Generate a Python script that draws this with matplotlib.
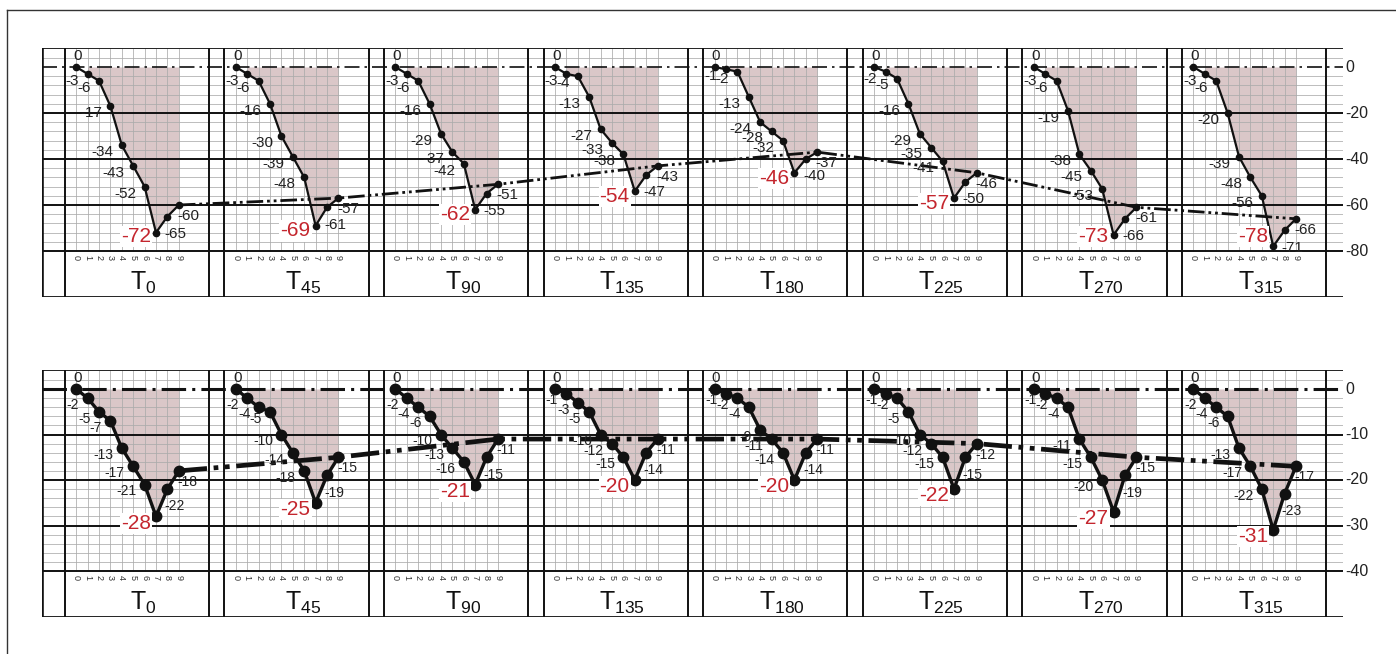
import matplotlib.pyplot as plt
from matplotlib.lines import Line2D

plt.rcParams['font.family'] = ['Liberation Sans', 'DejaVu Sans']
plt.rcParams['mathtext.fontset'] = 'custom'
plt.rcParams['mathtext.rm'] = 'Liberation Sans'
plt.rcParams['mathtext.default'] = 'regular'

# Winkel der Einzeldiagramme und Messpunkte 0..9
angles = ['0', '45', '90', '135', '180', '225', '270', '315']
steps = [0, 1, 2, 3, 4, 5, 6, 7, 8, 9]

# oberes Diagramm
up_t0 = [0, -3, -6, -17, -34, -43, -52, -72, -65, -60]
up_t45 = [0, -3, -6, -16, -30, -39, -48, -69, -61, -57]
up_t90 = [0, -3, -6, -16, -29, -37, -42, -62, -55, -51]
up_t135 = [0, -3, -4, -13, -27, -33, -38, -54, -47, -43]
up_t180 = [0, -1, -2, -13, -24, -28, -32, -46, -40, -37]
up_t225 = [0, -2, -5, -16, -29, -35, -41, -57, -50, -46]
up_t270 = [0, -3, -6, -19, -38, -45, -53, -73, -66, -61]
up_t315 = [0, -3, -6, -20, -39, -48, -56, -78, -71, -66]

# unteres Diagramm
lo_t0 = [0, -2, -5, -7, -13, -17, -21, -28, -22, -18]
lo_t45 = [0, -2, -4, -5, -10, -14, -18, -25, -19, -15]
lo_t90 = [0, -2, -4, -6, -10, -13, -16, -21, -15, -11]
lo_t135 = [0, -1, -3, -5, -10, -12, -15, -20, -14, -11]
lo_t180 = [0, -1, -2, -4, -9, -11, -14, -20, -14, -11]
lo_t225 = [0, -1, -2, -5, -10, -12, -15, -22, -15, -12]
lo_t270 = [0, -1, -2, -4, -11, -15, -20, -27, -19, -15]
lo_t315 = [0, -2, -4, -6, -13, -17, -22, -31, -23, -17]

upper = [up_t0, up_t45, up_t90, up_t135, up_t180, up_t225, up_t270, up_t315]
lower = [lo_t0, lo_t45, lo_t90, lo_t135, lo_t180, lo_t225, lo_t270, lo_t315]
upper_ticks = [0, -20, -40, -60, -80]
lower_ticks = [0, -10, -20, -30, -40]

W, H = 1396, 654
fig = plt.figure(figsize=(W / 100, H / 100), dpi=100)

PITCH = 14          # Abstand der Einzeldiagramme in x-Einheiten
UNIT = 11.4         # Pixel je x-Einheit
X0 = -3
X1 = X0 + (1343 - 42) / UNIT
SHADE = '#dac7c8'
RED = '#c4262e'
GRID = '#ababab'


def draw_row(px_top, px_zero, px_low, px_bot, low, series, ticks, style):
    scale = (px_low - px_zero) / abs(low)
    ytop = (px_zero - px_top) / scale
    ybot = low - (px_bot - px_low) / scale
    ax = fig.add_axes([42 / W, (H - px_bot) / H, (1343 - 42) / W, (px_bot - px_top) / H])
    ax.set_xlim(X0, X1)
    ax.set_ylim(ybot, ytop)
    ax.axis('off')
    tr = ax.get_xaxis_transform()

    # feine Linien
    step = style['minor']
    for y in range(low + step, int(ytop), step):
        if y % ticks[1] != 0:
            ax.axhline(y, color=GRID, lw=0.55, zorder=1)
    for i in range(len(series)):
        for s in steps:
            ax.plot([i * PITCH + s] * 2, [low, ytop], color=GRID, lw=0.55, zorder=1)

    # dicke Linien
    for t in ticks[1:]:
        ax.axhline(t, color='#111111', lw=1.4, zorder=2)
    ax.axhline(ytop, color='#222222', lw=1.4, zorder=2)
    ax.axhline(ybot, color='#222222', lw=1.4, zorder=2)
    ax.axvline(X0, color='#111111', lw=2.6, zorder=2)
    for i in range(len(series)):
        for b in (-1, 11.65):
            ax.axvline(i * PITCH + b, color='#111111', lw=1.4, zorder=2)

    ax.plot([X0, X1], [0, 0], color='#111111', lw=style['zero_lw'],
            linestyle=style['zero_ls'], zorder=3)

    for i, vals in enumerate(series):
        xs = [i * PITCH + s for s in steps]
        ax.fill_between(xs[1:], vals[1:], 0, color=SHADE, lw=0, zorder=0.5)
        ax.plot(xs, vals, color='#111111', lw=style['lw'], marker='o',
                ms=style['ms'], zorder=5)
        for s, x, v in zip(steps, xs, vals):
            if s == 0:
                ax.annotate('0', (x, v), xytext=(1, 3), textcoords='offset points',
                            ha='center', va='bottom', fontsize=style['fs0'], color='#222222', zorder=6)
            elif s == 7:
                y_lab = max(v - style['red_dy'], low + style['red_floor'])
                ax.text(x - 0.45, y_lab, str(v), ha='right', va='center',
                        fontsize=style['fs_red'], color=RED, zorder=6,
                        bbox=dict(boxstyle='square,pad=0.05', fc='white', ec='none'))
            elif s == 8:
                ax.annotate(str(v), (x, v), xytext=(-2, -12.5), textcoords='offset points',
                            ha='left', va='center', fontsize=style['fs'], color='#222222', zorder=6)
            elif s == 9:
                ax.annotate(str(v), (x, v), xytext=(-1, -8), textcoords='offset points',
                            ha='left', va='center', fontsize=style['fs'], color='#222222', zorder=6)
            else:
                ax.annotate(str(v), (x, v), xytext=(-6, -5), textcoords='offset points',
                            ha='right', va='center', fontsize=style['fs'], color='#222222', zorder=6)
            ax.text(x, 0.158, str(s), transform=tr, rotation=270, ha='center', va='center',
                    fontsize=6.5, color='#333333')
        ax.text(i * PITCH + 5.9, 0.03, 'T$_{' + angles[i] + '}$', transform=tr,
                ha='center', va='baseline', fontsize=18, color='#111111')

    # Verbindungslinie der Endpunkte
    ends_x = [i * PITCH + steps[-1] for i in range(len(series))]
    ends_y = [vals[-1] for vals in series]
    ax.plot(ends_x, ends_y, color='#111111', lw=style['link_lw'],
            linestyle=(0, (6, 1.4, 1, 1.4, 1, 1.4)), zorder=4)

    for t in ticks:
        ax.text(X1 + 0.2, t, str(t), ha='left', va='center', fontsize=11.5,
                color='#222222', clip_on=False)


draw_row(48, 67, 251, 297, -80, upper, upper_ticks,
         dict(lw=1.6, ms=4.5, fs=11, fs0=11, fs_red=15, red_dy=2.3, red_floor=6.5, minor=4,
              link_lw=2.0, zero_lw=1.2, zero_ls=(0, (9, 3, 1.5, 3))))
draw_row(370, 389, 571, 617, -40, lower, lower_ticks,
         dict(lw=2.4, ms=7.5, fs=10, fs0=11, fs_red=15, red_dy=1.5, red_floor=5, minor=2,
              link_lw=3.4, zero_lw=2.2, zero_ls=(0, (8, 2, 1, 2))))

# Rahmen um die ganze Abbildung
fig.add_artist(Line2D([7.5 / W, 7.5 / W], [0, 1 - 9.5 / H], color='#333333', lw=1.0))
fig.add_artist(Line2D([7.5 / W, 1], [1 - 9.5 / H, 1 - 9.5 / H], color='#333333', lw=1.0))

fig.savefig('out.png', dpi=100)
